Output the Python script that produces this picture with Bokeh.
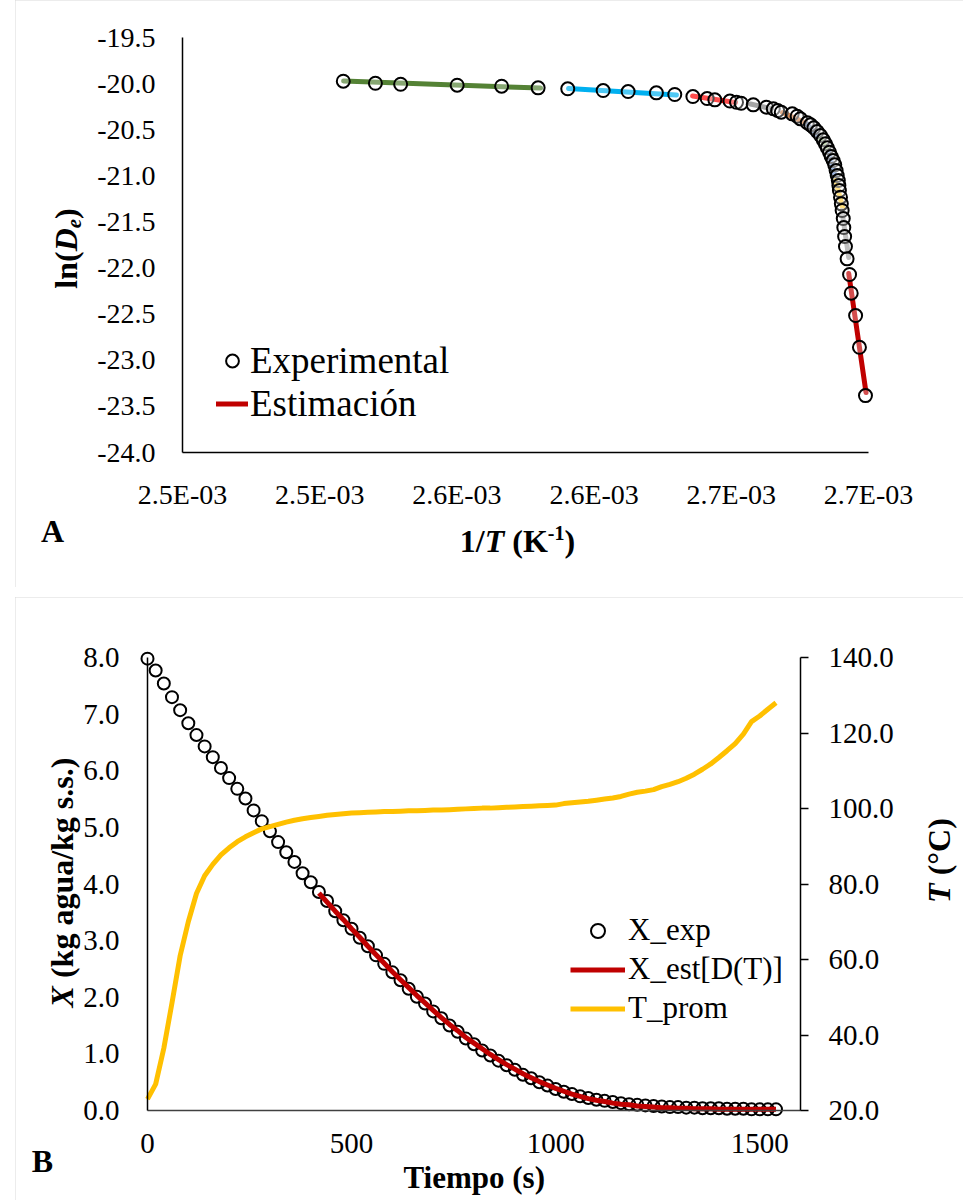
from bokeh.plotting import figure
from bokeh.models import (Range1d, LinearAxis, FixedTicker, CustomJSTickFormatter,
                          NumeralTickFormatter, Label, Legend, LegendItem, Spacer)
from bokeh.layouts import column, row
from bokeh.embed import file_html
from bokeh.resources import INLINE

# ---------------- Panel A data: ln(De) vs 1/T ----------------
inv_T = [2.5086e-3, 2.5203e-3, 2.5295e-3, 2.5501e-3, 2.5663e-3, 2.5796e-3, 2.5904e-3,
         2.6033e-3, 2.6124e-3, 2.6227e-3, 2.6294e-3, 2.6360e-3, 2.6412e-3, 2.6440e-3,
         2.6495e-3, 2.6519e-3, 2.6536e-3, 2.6580e-3, 2.6628e-3, 2.6653e-3, 2.6669e-3,
         2.6682e-3, 2.6722e-3, 2.6740e-3, 2.6752e-3, 2.6777e-3, 2.6789e-3, 2.6801e-3,
         2.6813e-3, 2.6825e-3, 2.6835e-3, 2.6843e-3, 2.6850e-3, 2.6858e-3, 2.6864e-3,
         2.6871e-3, 2.6877e-3, 2.6882e-3, 2.6886e-3, 2.6890e-3, 2.6892e-3, 2.6894e-3,
         2.6898e-3, 2.6901e-3, 2.6904e-3, 2.6908e-3, 2.6910e-3, 2.6913e-3, 2.6916e-3,
         2.6922e-3, 2.6931e-3, 2.6937e-3, 2.6953e-3, 2.6967e-3, 2.6989e-3]
ln_De = [-19.974, -19.996, -20.007, -20.017, -20.028, -20.046, -20.056, -20.075, -20.086,
         -20.100, -20.118, -20.140, -20.162, -20.176, -20.189, -20.202, -20.213, -20.230,
         -20.256, -20.273, -20.292, -20.310, -20.328, -20.354, -20.382, -20.425, -20.447,
         -20.479, -20.520, -20.563, -20.610, -20.653, -20.696, -20.744, -20.791, -20.834,
         -20.881, -20.943, -20.997, -21.051, -21.105, -21.159, -21.232, -21.304, -21.376,
         -21.463, -21.561, -21.658, -21.767, -21.900, -22.070, -22.273, -22.515, -22.859,
         -23.383]

# local linear estimations (one per temperature interval)
seg_colors = ["#548235", "#00b0f0", "#ff0000", "#7f7f7f", "#c55a11", "#264478",
              "#70ad47", "#4472c4", "#ffc000", "#a5a5a5", "#c00000"]
seg_x0 = [2.5087e-3, 2.5907e-3, 2.6359e-3, 2.6570e-3, 2.6687e-3, 2.6774e-3,
          2.6825e-3, 2.6854e-3, 2.6880e-3, 2.6903e-3, 2.6928e-3]
seg_x1 = [2.5805e-3, 2.6300e-3, 2.6515e-3, 2.6643e-3, 2.6760e-3, 2.6818e-3,
          2.6854e-3, 2.6880e-3, 2.6906e-3, 2.6928e-3, 2.6991e-3]
seg_y0 = [-19.972, -20.053, -20.134, -20.221, -20.313, -20.433,
          -20.595, -20.736, -21.051, -21.376, -22.060]
seg_y1 = [-20.048, -20.124, -20.205, -20.270, -20.411, -20.574,
          -20.726, -21.029, -21.344, -21.886, -23.350]

xa_ticks = [2.45e-3, 2.50e-3, 2.55e-3, 2.60e-3, 2.65e-3, 2.70e-3]
xa_labels = ["2.5E-03", "2.5E-03", "2.6E-03", "2.6E-03", "2.7E-03", "2.7E-03"]
ya_ticks = [-24.0, -23.5, -23.0, -22.5, -22.0, -21.5, -21.0, -20.5, -20.0, -19.5]

# ---------------- Panel B data: drying curve ----------------
t_s = [0, 20, 40, 60, 80, 100, 120, 140, 160, 180, 200, 220, 240, 260, 280, 300, 320, 340,
       360, 380, 400, 420, 440, 460, 480, 500, 520, 540, 560, 580, 600, 620, 640, 660, 680,
       700, 720, 740, 760, 780, 800, 820, 840, 860, 880, 900, 920, 940, 960, 980, 1000,
       1020, 1040, 1060, 1080, 1100, 1120, 1140, 1160, 1180, 1200, 1220, 1240, 1260, 1280,
       1300, 1320, 1340, 1360, 1380, 1400, 1420, 1440, 1460, 1480, 1500, 1520, 1540]
X_exp = [7.98, 7.77, 7.54, 7.30, 7.07, 6.84, 6.63, 6.43, 6.24, 6.05,
         5.87, 5.68, 5.51, 5.30, 5.11, 4.93, 4.74, 4.56, 4.39, 4.19,
         4.03, 3.86, 3.70, 3.52, 3.36, 3.21, 3.05, 2.90, 2.74, 2.59,
         2.44, 2.30, 2.15, 2.01, 1.89, 1.75, 1.63, 1.50, 1.39, 1.27,
         1.17, 1.06, 0.97, 0.88, 0.80, 0.72, 0.63, 0.57, 0.50, 0.44,
         0.38, 0.33, 0.29, 0.25, 0.22, 0.19, 0.17, 0.15, 0.13, 0.11,
         0.10, 0.09, 0.08, 0.07, 0.06, 0.06, 0.05, 0.05, 0.04, 0.04,
         0.04, 0.03, 0.03, 0.03, 0.02, 0.02, 0.02, 0.02]
t_est = [420, 440, 460, 480, 500, 520, 540, 560, 580, 600, 620, 640, 660, 680, 700, 720,
         740, 760, 780, 800, 820, 840, 860, 880, 900, 920, 940, 960, 980, 1000, 1020, 1040,
         1060, 1080, 1100, 1120, 1140, 1160, 1180, 1200, 1220, 1240, 1260, 1280, 1300, 1320,
         1340, 1360, 1380, 1400, 1420, 1440, 1460, 1480, 1500, 1520, 1540]
X_est = [3.84, 3.68, 3.52, 3.37, 3.21, 3.06, 2.90, 2.75, 2.60, 2.45,
         2.31, 2.17, 2.03, 1.90, 1.77, 1.64, 1.52, 1.41, 1.29, 1.19,
         1.09, 0.99, 0.90, 0.81, 0.73, 0.65, 0.58, 0.51, 0.45, 0.39,
         0.34, 0.29, 0.25, 0.21, 0.18, 0.16, 0.13, 0.11, 0.10, 0.08,
         0.07, 0.06, 0.05, 0.05, 0.04, 0.04, 0.03, 0.03, 0.03, 0.02,
         0.02, 0.02, 0.02, 0.02, 0.02, 0.02, 0.02]
T_prom = [23.0, 27.0, 36.5, 48.5, 61.0, 70.0, 77.5, 82.2, 85.2, 87.7,
          89.6, 91.2, 92.5, 93.6, 94.6, 95.2, 95.8, 96.4, 96.9, 97.3,
          97.6, 97.9, 98.2, 98.4, 98.6, 98.8, 98.9, 99.0, 99.1, 99.2,
          99.2, 99.3, 99.4, 99.4, 99.5, 99.6, 99.6, 99.7, 99.8, 99.9,
          100.0, 100.1, 100.1, 100.2, 100.3, 100.4, 100.5, 100.6, 100.7, 100.8,
          100.9, 101.3, 101.5, 101.7, 101.9, 102.2, 102.5, 102.8, 103.2, 103.8,
          104.3, 104.6, 105.0, 105.8, 106.4, 107.1, 108.0, 109.1, 110.4, 111.8,
          113.5, 115.3, 117.2, 119.7, 123.0, 124.5, 126.3, 128.0]
xb_ticks = [0, 500, 1000, 1500]
yb_ticks = [0, 1, 2, 3, 4, 5, 6, 7, 8]
yb2_ticks = [20, 40, 60, 80, 100, 120, 140]

FONT = "Liberation Serif"

# Times (Liberation Serif) advance widths, em units
BOLD_W = {' ': .25, '(': .333, ')': .333, '/': .278, '.': .25, '-': .333, '1': .5,
          'A': .722, 'B': .667, 'C': .722, 'D': .722, 'K': .778, 'T': .667, 'X': .722,
          'a': .5, 'e': .444, 'g': .5, 'i': .278, 'k': .556, 'l': .278, 'm': .833,
          'n': .556, 'o': .5, 'p': .556, 's': .389, 'u': .556, '°': .4}
BI_W = {'T': .611, 'D': .722, 'e': .444, 'X': .667, ' ': .25}


def text_width(s, style, size):
    table = BI_W if style == "bold italic" else BOLD_W
    return sum(table.get(c, .5) for c in s) * size


def ext_range(v_a, p_a, v_b, p_b, size, flip=False):
    """Range whose value v_a sits at canvas pixel p_a and v_b at p_b (canvas of `size` px)."""
    k = (v_b - v_a) / (p_b - p_a)
    lo = v_a + (0 - p_a) * k
    hi = v_a + (size - p_a) * k
    return (hi, lo) if flip else (lo, hi)


class Canvas:
    def __init__(self, fig, xr, yr, w, h):
        self.fig, self.xr, self.yr, self.w, self.h = fig, xr, yr, w, h

    def data(self, cx, cy):
        x0, x1 = self.xr
        y0, y1 = self.yr
        return x0 + cx / self.w * (x1 - x0), y1 - cy / self.h * (y1 - y0)

    def rich_text(self, cx, cy, pieces, angle=0.0):
        """pieces: (text, style, size, rise); (cx, cy) = centre of the run (canvas px)."""
        total = sum(text_width(t, st, sz) for t, st, sz, _ in pieces)
        pos = -total / 2
        for t, st, sz, rise in pieces:
            core = t.strip(" ")
            lead = len(t) - len(t.lstrip(" "))
            pos += lead * BOLD_W[' '] * sz
            if angle == 0:
                px, py = cx + pos, cy - rise
            else:
                px, py = cx - rise, cy - pos
            x, y = self.data(px, py)
            self.fig.add_layout(Label(x=x, y=y, text=core, text_font=FONT, text_font_style=st,
                                      text_font_size=f"{sz}px", text_align="left",
                                      text_baseline="middle", angle=angle,
                                      text_color="black"))
            pos += text_width(t, st, sz) - lead * BOLD_W[' '] * sz


def style_axis(ax, size):
    ax.axis_line_color = "black"
    ax.axis_line_width = 1.5
    ax.major_tick_line_color = None
    ax.minor_tick_line_color = None
    ax.major_label_text_font = FONT
    ax.major_label_text_font_size = size
    ax.major_label_text_color = "black"


def base_figure(w, h, xr, yr):
    f = figure(width=w, height=h, output_backend="svg", toolbar_location=None,
               x_range=Range1d(*xr), y_range=Range1d(*yr),
               min_border_left=0, min_border_right=0, min_border_top=0, min_border_bottom=0,
               x_axis_type=None, y_axis_type=None,
               styles={"outline": "2px solid #d9d9d9", "outline-offset": "-2px"})
    f.outline_line_color = None
    f.grid.visible = False
    f.background_fill_color = "white"
    f.border_fill_color = "white"
    return f


# ---------------- Panel A ----------------
WA, HA = 948, 587
A_L, A_R, A_T, A_B = 167, 853, 37, 452          # plot-area box inside the canvas (px)
xa_box = (2.45e-3, 2.70e-3)
ya_box = (-24.0, -19.5)
xa_range = ext_range(xa_box[0], A_L, xa_box[1], A_R, WA)
ya_range = ext_range(ya_box[1], A_T, ya_box[0], A_B, HA, flip=True)
pa = base_figure(WA, HA, xa_range, ya_range)

ax_x = LinearAxis(ticker=FixedTicker(ticks=xa_ticks),
                  formatter=CustomJSTickFormatter(args=dict(labels=xa_labels),
                                                  code="return labels[index];"),
                  fixed_location=ya_box[0], bounds=xa_box)
style_axis(ax_x, "28px")
ax_x.major_label_standoff = 20
pa.add_layout(ax_x, "below")
ax_y = LinearAxis(ticker=FixedTicker(ticks=ya_ticks), formatter=NumeralTickFormatter(format="0.0"),
                  fixed_location=xa_box[0], bounds=ya_box)
style_axis(ax_y, "28px")
ax_y.major_label_standoff = 21
pa.add_layout(ax_y, "left")

seg_renderers = []
for c, x0, x1, y0, y1 in zip(seg_colors, seg_x0, seg_x1, seg_y0, seg_y1):
    r = pa.line([x0, x1], [y0, y1], line_color=c, line_width=5, line_cap="round")
    seg_renderers.append(r)
r_exp = pa.scatter(inv_T, ln_De, marker="circle", size=13, fill_color="white",
                   fill_alpha=0.3, line_color="black", line_width=2)

leg_a = Legend(items=[LegendItem(label="Experimental", renderers=[r_exp]),
                      LegendItem(label="Estimación", renderers=[seg_renderers[-1]])],
               location=(201, 162), padding=0, margin=0, spacing=0,
               glyph_width=32, glyph_height=43, label_height=43, label_standoff=2,
               label_text_font=FONT, label_text_font_size="37px", label_text_color="black",
               background_fill_alpha=0, border_line_color=None)
pa.add_layout(leg_a)

ca = Canvas(pa, xa_range, ya_range, WA, HA)
ca.rich_text(50, 248, [("ln(", "bold", 32, 0), ("D", "bold italic", 32, 0),
                       ("e", "bold italic", 21, -8), (")", "bold", 32, 0)], angle=1.5707963)
ca.rich_text(502, 540, [("1/", "bold", 32, 0), ("T", "bold italic", 32, 0),
                        (" (K", "bold", 32, 0), ("-1", "bold", 20, 8), (")", "bold", 32, 0)])
ca.rich_text(37, 530, [("A", "bold", 32, 0)])

# ---------------- Panel B ----------------
WB, HB = 948, 603
B_L, B_R, B_T, B_B = 132, 785, 60, 513
xb_box = (0, 1600)
yb_box = (0, 8)
yb2_box = (20, 140)
xb_range = ext_range(xb_box[0], B_L, xb_box[1], B_R, WB)
yb_range = ext_range(yb_box[1], B_T, yb_box[0], B_B, HB, flip=True)
yb2_range = ext_range(yb2_box[1], B_T, yb2_box[0], B_B, HB, flip=True)
pb = base_figure(WB, HB, xb_range, yb_range)
pb.extra_y_ranges = {"temp": Range1d(*yb2_range)}

bx = LinearAxis(ticker=FixedTicker(ticks=xb_ticks), fixed_location=yb_box[0], bounds=xb_box)
style_axis(bx, "29px")
bx.axis_line_color = "#404040"
bx.major_label_standoff = 17
pb.add_layout(bx, "below")
by = LinearAxis(ticker=FixedTicker(ticks=yb_ticks), formatter=NumeralTickFormatter(format="0.0"),
                fixed_location=xb_box[0], bounds=yb_box)
style_axis(by, "29px")
by.major_label_standoff = 22
pb.add_layout(by, "left")
by2 = LinearAxis(y_range_name="temp", ticker=FixedTicker(ticks=yb2_ticks),
                 formatter=NumeralTickFormatter(format="0.0"),
                 fixed_location=xb_box[1], bounds=yb2_box)
style_axis(by2, "29px")
by2.major_tick_line_color = "black"
by2.major_tick_line_width = 1.5
by2.major_tick_out = 8
by2.major_tick_in = 0
by2.major_label_standoff = 20
pb.add_layout(by2, "right")

r_xexp = pb.scatter(t_s, X_exp, marker="circle", size=12, fill_color=None,
                    line_color="black", line_width=2)
r_xest = pb.line(t_est, X_est, line_color="#c00000", line_width=5)
r_temp = pb.line(t_s, T_prom, y_range_name="temp", line_color="#ffc000", line_width=5)

leg_b = Legend(items=[LegendItem(label="X_exp", renderers=[r_xexp]),
                      LegendItem(label="X_est[D(T)]", renderers=[r_xest]),
                      LegendItem(label="T_prom", renderers=[r_temp])],
               location=(555, 174), padding=0, margin=0, spacing=3,
               glyph_width=55, glyph_height=35, label_height=35, label_standoff=3,
               label_text_font=FONT, label_text_font_size="31px", label_text_color="black",
               background_fill_alpha=0, border_line_color=None)
pb.add_layout(leg_b)

cb = Canvas(pb, xb_range, yb_range, WB, HB)
cb.rich_text(459, 580, [("Tiempo (s)", "bold", 31, 0)])
cb.rich_text(27, 563, [("B", "bold", 32, 0)])
cb.rich_text(46, 285, [("X", "bold italic", 32, 0),
                       (" (kg agua/kg s.s.)", "bold", 32, 0)], angle=1.5707963)
cb.rich_text(923, 263, [("T", "bold italic", 32, 0), (" (°C)", "bold", 32, 0)],
             angle=1.5707963)

layout = column(row(Spacer(width=15, height=HA), pa),
                Spacer(width=963, height=10),
                row(Spacer(width=15, height=HB), pb))

open("out.html", "w").write(file_html(layout, INLINE))
